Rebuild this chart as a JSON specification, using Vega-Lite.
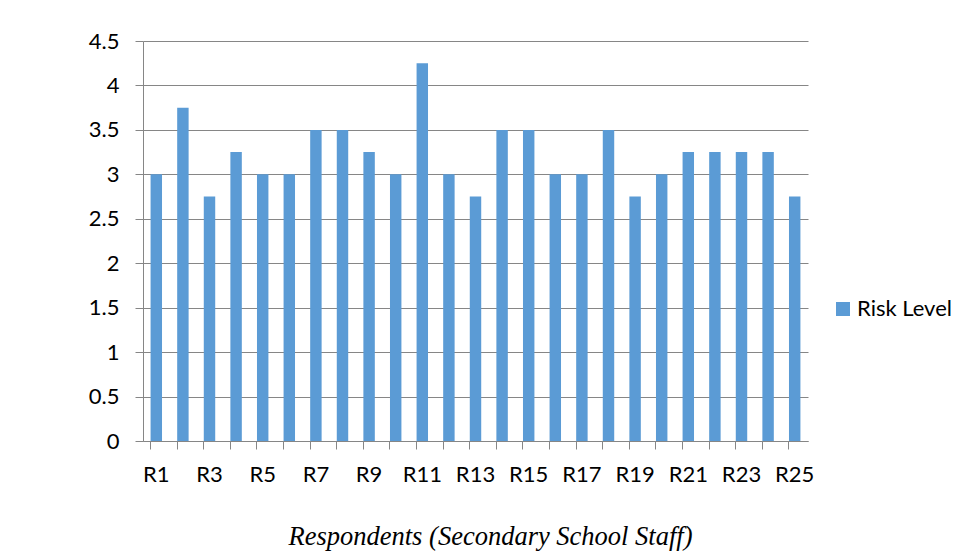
{
  "$schema": "https://vega.github.io/schema/vega-lite/v6.json",
  "autosize": {"type": "none"},
  "width": 665,
  "height": 400,
  "padding": {"left": 143, "top": 41, "right": 148, "bottom": 112},
  "background": "white",
  "data": {"values": [
    {"r": "R1", "v": 3, "s": "Risk Level"}, {"r": "R2", "v": 3.75, "s": "Risk Level"}, {"r": "R3", "v": 2.75, "s": "Risk Level"}, {"r": "R4", "v": 3.25, "s": "Risk Level"},
    {"r": "R5", "v": 3, "s": "Risk Level"}, {"r": "R6", "v": 3, "s": "Risk Level"}, {"r": "R7", "v": 3.5, "s": "Risk Level"}, {"r": "R8", "v": 3.5, "s": "Risk Level"},
    {"r": "R9", "v": 3.25, "s": "Risk Level"}, {"r": "R10", "v": 3, "s": "Risk Level"}, {"r": "R11", "v": 4.25, "s": "Risk Level"}, {"r": "R12", "v": 3, "s": "Risk Level"},
    {"r": "R13", "v": 2.75, "s": "Risk Level"}, {"r": "R14", "v": 3.5, "s": "Risk Level"}, {"r": "R15", "v": 3.5, "s": "Risk Level"}, {"r": "R16", "v": 3, "s": "Risk Level"},
    {"r": "R17", "v": 3, "s": "Risk Level"}, {"r": "R18", "v": 3.5, "s": "Risk Level"}, {"r": "R19", "v": 2.75, "s": "Risk Level"}, {"r": "R20", "v": 3, "s": "Risk Level"},
    {"r": "R21", "v": 3.25, "s": "Risk Level"}, {"r": "R22", "v": 3.25, "s": "Risk Level"}, {"r": "R23", "v": 3.25, "s": "Risk Level"}, {"r": "R24", "v": 3.25, "s": "Risk Level"},
    {"r": "R25", "v": 2.75, "s": "Risk Level"}
  ]},
  "mark": {"type": "bar"},
  "encoding": {
    "x": {
      "field": "r", "type": "nominal", "sort": null,
      "scale": {"paddingInner": 0.57, "paddingOuter": 0.285},
      "axis": {
        "bandPosition": 0,
        "labelAngle": 0,
        "labelExpr": "toNumber(slice(datum.value, 1)) % 2 == 1 ? datum.value : ''",
        "labelFont": "Lato", "labelFontSize": 22, "labelColor": "#000000",
        "labelPadding": 15,
        "tickSize": 8, "tickColor": "#868686", "domainColor": "#868686",
        "grid": false,
        "title": "Respondents (Secondary School Staff)",
        "titleFont": "Liberation Serif", "titleFontStyle": "italic", "titleFontWeight": "normal",
        "titleFontSize": 26.5, "titleColor": "#000000",
        "titlePadding": 38,
        "titleX": 347
      }
    },
    "y": {
      "field": "v", "type": "quantitative",
      "scale": {"domain": [0, 4.5], "nice": false},
      "axis": {
        "values": [0, 0.5, 1, 1.5, 2, 2.5, 3, 3.5, 4, 4.5],
        "format": "~g",
        "title": null,
        "labelFont": "Lato", "labelFontSize": 22, "labelColor": "#000000",
        "labelPadding": 16,
        "tickSize": 8, "tickColor": "#868686", "domainColor": "#868686",
        "grid": true, "gridColor": "#868686", "gridWidth": 1
      }
    },
    "color": {
      "field": "s", "type": "nominal",
      "scale": {"range": ["#5B9BD5"]},
      "legend": {
        "title": null, "orient": "none", "legendX": 689, "legendY": 257,
        "symbolType": "square", "symbolSize": 196,
        "labelFont": "Lato", "labelFontSize": 22, "labelColor": "#000000",
        "labelOffset": 3
      }
    }
  },
  "config": {"view": {"stroke": null}}
}
